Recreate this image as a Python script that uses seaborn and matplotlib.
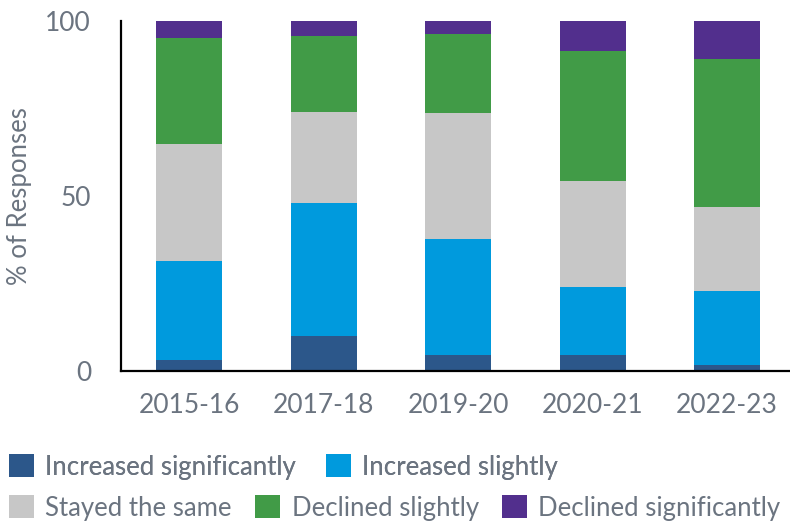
import matplotlib
matplotlib.use("Agg")
import matplotlib.pyplot as plt
import seaborn as sns
import numpy as np
import pandas as pd
from matplotlib.patches import Patch

categories = ["2015-16", "2017-18", "2019-20", "2020-21", "2022-23"]
series_names = ["Increased significantly", "Increased slightly", "Stayed the same",
                "Declined slightly", "Declined significantly"]
increased_significantly = [3.1, 9.9, 4.7, 4.6, 1.8]
increased_slightly = [28.4, 38.1, 33.1, 19.4, 21.1]
stayed_same = [33.5, 26.1, 35.8, 30.3, 24.0]
declined_slightly = [30.2, 21.6, 22.7, 37.1, 42.2]
declined_significantly = [4.8, 4.3, 3.7, 8.6, 10.9]
colors = ["#2c578a", "#009add", "#c7c7c7", "#419b47", "#522f8d"]
yticks = [0, 50, 100]

sns.set_style("white")
plt.rcParams["font.family"] = ["Lato", "DejaVu Sans"]
txt = "#6b7480"

fig = plt.figure(figsize=(7.9, 5.25), dpi=100)
ax = fig.add_axes([121 / 790, (525 - 371) / 525, (790 - 121) / 790, 350 / 525])

series = [increased_significantly, increased_slightly, stayed_same,
          declined_slightly, declined_significantly]
bottom = np.zeros(len(categories))
for name, vals, col in zip(series_names, series, colors):
    df = pd.DataFrame({"cat": categories, "val": vals})
    sns.barplot(data=df, x="cat", y="val", bottom=bottom, color=col,
                width=0.49, ax=ax, saturation=1, linewidth=0)
    bottom = bottom + np.array(vals)

ax.set_xlim(-0.506, 4.468)
ax.set_ylim(0, 100)
ax.set_yticks(yticks)
ax.set_xlabel("")
ax.set_ylabel("% of Responses", fontsize=18.5, color=txt)
ax.yaxis.set_label_coords(-(121 - 32) / 669, 0.5)
ax.tick_params(axis="y", length=0, pad=21.5, labelsize=19, labelcolor=txt)
ax.tick_params(axis="x", length=0, pad=16, labelsize=19, labelcolor=txt)
for s in ["top", "right"]:
    ax.spines[s].set_visible(False)
for s in ["left", "bottom"]:
    ax.spines[s].set_color("black")
    ax.spines[s].set_linewidth(1.6)
ax.grid(False)

handles = [Patch(facecolor=c, edgecolor="none") for c in colors]
common = dict(frameon=False, fontsize=18.5, labelcolor=txt, handlelength=0.97,
              handleheight=0.97, handletextpad=0.45,
              borderpad=0, borderaxespad=0, loc="center left")
leg1 = fig.legend(handles[:2], series_names[:2], ncol=2, columnspacing=1.15,
                  bbox_to_anchor=(9 / 790, (525 - 467) / 525), **common)
fig.add_artist(leg1)
leg2 = fig.legend(handles[2:], series_names[2:], ncol=3, columnspacing=0.9,
                  bbox_to_anchor=(9 / 790, (525 - 508) / 525), **common)

fig.savefig("out.png", dpi=100)
